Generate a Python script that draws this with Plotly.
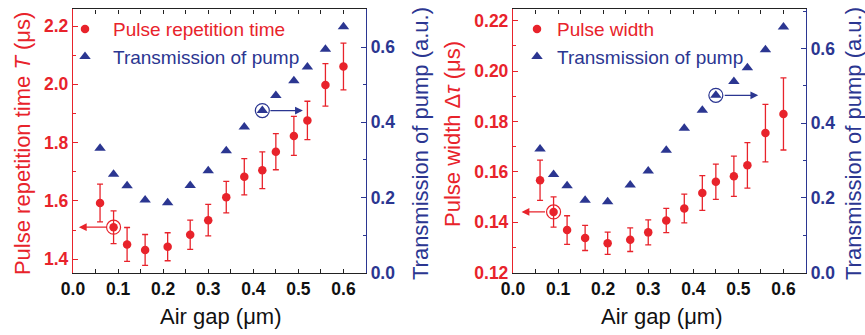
import plotly.graph_objects as go

# ---------------- data ----------------
air_gap = [0.06, 0.09, 0.12, 0.16, 0.21, 0.26, 0.30, 0.34, 0.38, 0.42, 0.45, 0.49, 0.52, 0.56, 0.60]

rep_time = [1.593, 1.510, 1.451, 1.432, 1.443, 1.484, 1.534, 1.613, 1.683, 1.705, 1.769, 1.823, 1.876, 1.998, 2.061]
rep_time_err = [0.065, 0.056, 0.058, 0.053, 0.048, 0.050, 0.054, 0.054, 0.062, 0.063, 0.062, 0.067, 0.066, 0.073, 0.080]
trans_left = [0.331, 0.262, 0.231, 0.193, 0.186, 0.232, 0.271, 0.324, 0.387, 0.431, 0.471, 0.510, 0.547, 0.594, 0.654]

pulse_width = [0.1567, 0.1441, 0.1369, 0.1338, 0.1317, 0.1331, 0.1360, 0.1407, 0.1455, 0.1516, 0.1561, 0.1583, 0.1626, 0.1754, 0.1830]
pulse_width_err = [0.0080, 0.0060, 0.0057, 0.0050, 0.0044, 0.0047, 0.0050, 0.0048, 0.0057, 0.0069, 0.0070, 0.0080, 0.0090, 0.0114, 0.0143]
trans_right = [0.331, 0.263, 0.233, 0.194, 0.190, 0.235, 0.272, 0.328, 0.387, 0.435, 0.475, 0.512, 0.549, 0.597, 0.658]

RED = "#e8232b"
NAVY = "#2b3691"
FONT = "Liberation Sans, Arial, sans-serif"

fig = go.Figure()

# left panel
fig.add_trace(go.Scatter(
    x=air_gap, y=rep_time, mode="markers", xaxis="x", yaxis="y",
    name=f'<span style="color:{RED}">Pulse repetition time</span>', legend="legend",
    marker=dict(symbol="circle", size=8.5, color=RED),
    error_y=dict(type="data", array=rep_time_err, color=RED, thickness=1.3, width=3)))
fig.add_trace(go.Scatter(
    x=air_gap, y=trans_left, mode="markers", xaxis="x", yaxis="y2",
    name=f'<span style="color:{NAVY}">Transmission of pump</span>', legend="legend",
    marker=dict(symbol="triangle-up", size=10, color=NAVY)))

# right panel
fig.add_trace(go.Scatter(
    x=air_gap, y=pulse_width, mode="markers", xaxis="x2", yaxis="y3",
    name=f'<span style="color:{RED}">Pulse width</span>', legend="legend2",
    marker=dict(symbol="circle", size=8.5, color=RED),
    error_y=dict(type="data", array=pulse_width_err, color=RED, thickness=1.3, width=3)))
fig.add_trace(go.Scatter(
    x=air_gap, y=trans_right, mode="markers", xaxis="x2", yaxis="y4",
    name=f'<span style="color:{NAVY}">Transmission of pump</span>', legend="legend2",
    marker=dict(symbol="triangle-up", size=10, color=NAVY)))

ydom = [0.186, 0.972]
dom_left = [73 / 865, 366 / 865]
dom_right = [513 / 865, 806 / 865]
TICK = 17.5

def xax(domain, anchor):
    return dict(domain=domain, anchor=anchor, range=[0, 0.65], dtick=0.1, tick0=0,
                tickformat=".1f", ticks="inside", ticklen=4, tickwidth=1.2, tickcolor="#222",
                minor=dict(dtick=0.05, ticks="inside", ticklen=4, tickwidth=1.2, tickcolor="#222"),
                showline=True, linecolor="#222", linewidth=1.3, mirror="allticks",
                showgrid=False, zeroline=False, automargin=False,
                tickfont=dict(family=FONT, size=TICK, color="#111", weight="bold"))

def yax(anchor, rng, dtick, fmt, color, side="left", overlaying=None):
    d = dict(anchor=anchor, range=rng, dtick=dtick, tickformat=fmt, side=side,
             ticks="inside", ticklen=5, tickwidth=1.2, tickcolor=color,
             minor=dict(dtick=dtick / 2, ticks="inside", ticklen=3, tickwidth=1.2, tickcolor=color),
             showline=True, linecolor=color, linewidth=1.3,
             showgrid=False, zeroline=False, automargin=False,
             tickfont=dict(family=FONT, size=TICK, color=color, weight="bold"))
    if overlaying:
        d["overlaying"] = overlaying
    else:
        d["domain"] = ydom
    return d

fig.update_layout(
    width=865, height=335, margin=dict(l=0, r=0, t=0, b=0),
    paper_bgcolor="white", plot_bgcolor="white", template="none",
    font=dict(family=FONT),
    xaxis=xax(dom_left, "y"),
    xaxis2=xax(dom_right, "y3"),
    yaxis=yax("x", [1.354, 2.257], 0.2, ".1f", RED),
    yaxis2=yax("x", [0, 0.70], 0.2, ".1f", NAVY, side="right", overlaying="y"),
    yaxis3=yax("x2", [0.12, 0.2245], 0.02, ".2f", RED),
    yaxis4=yax("x2", [0, 0.705], 0.2, ".1f", NAVY, side="right", overlaying="y3"),
    legend=dict(x=57 / 865, y=0.97, xanchor="left", yanchor="top", bgcolor="rgba(0,0,0,0)",
                font=dict(family=FONT, size=19), tracegroupgap=0, itemwidth=46),
    legend2=dict(x=517 / 865, y=0.97, xanchor="left", yanchor="top", bgcolor="rgba(0,0,0,0)",
                 font=dict(family=FONT, size=19), tracegroupgap=0, itemwidth=30),
)

# axis titles as annotations
title_font = dict(family=FONT, size=22)
ann = [
    dict(text="Pulse repetition time <i>T</i> (μs)", x=22 / 865, y=0.57, textangle=-90,
         font=dict(color=RED, **title_font)),
    dict(text="Transmission of pump (a.u.)", x=420 / 865, y=0.57, textangle=-90,
         font=dict(color=NAVY, **title_font)),
    dict(text="Air gap (μm)", x=221 / 865, y=(335 - 316) / 335,
         font=dict(color="#111", **title_font)),
    dict(text="Pulse width Δ<i>τ</i> (μs)", x=452 / 865, y=0.60, textangle=-90,
         font=dict(color=RED, **title_font)),
    dict(text="Transmission of pump (a.u.)", x=853 / 865, y=0.57, textangle=-90,
         font=dict(color=NAVY, **title_font)),
    dict(text="Air gap (μm)", x=661 / 865, y=(335 - 316) / 335,
         font=dict(color="#111", **title_font)),
]
for a in ann:
    fig.add_annotation(xref="paper", yref="paper", showarrow=False, xanchor="center",
                       yanchor="middle", **a)

# arrows indicating which axis each series uses
arrows = [
    dict(xref="x", yref="y", x=0.013, y=rep_time[1], ax=29, ay=0, arrowcolor=RED),
    dict(xref="x", yref="y2", x=0.51, y=trans_left[9], ax=-34, ay=0, arrowcolor=NAVY),
    dict(xref="x2", yref="y3", x=0.019, y=pulse_width[1], ax=25, ay=0, arrowcolor=RED),
    dict(xref="x2", yref="y4", x=0.544, y=trans_right[10], ax=-35, ay=0, arrowcolor=NAVY),
]
for a in arrows:
    fig.add_annotation(text="", showarrow=True, arrowhead=2, arrowsize=1.2, arrowwidth=1.3,
                       axref="pixel", ayref="pixel", **a)

circles = [
    dict(xref="x", yref="y", xanchor=air_gap[1], yanchor=rep_time[1], color=RED),
    dict(xref="x", yref="y2", xanchor=air_gap[9], yanchor=trans_left[9], color=NAVY),
    dict(xref="x2", yref="y3", xanchor=air_gap[1], yanchor=pulse_width[1], color=RED),
    dict(xref="x2", yref="y4", xanchor=air_gap[10], yanchor=trans_right[10], color=NAVY),
]
for c in circles:
    fig.add_shape(type="circle", xref=c["xref"], yref=c["yref"], xsizemode="pixel",
                  ysizemode="pixel", xanchor=c["xanchor"], yanchor=c["yanchor"],
                  x0=-7, x1=7, y0=-7, y1=7, line=dict(color=c["color"], width=1.2))

fig.write_html("out.html")
